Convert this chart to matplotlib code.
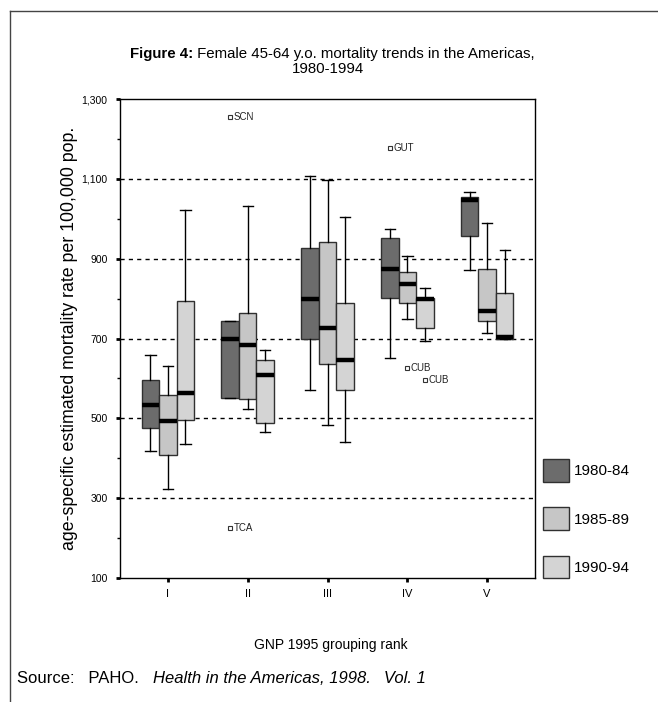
import matplotlib

matplotlib.use("Agg")
import matplotlib.pyplot as plt
from matplotlib.lines import Line2D
from matplotlib.patches import Patch
from matplotlib.ticker import FixedLocator, FuncFormatter

NARROW = ["Liberation Sans Narrow", "Liberation Sans", "DejaVu Sans"]
REGULAR = ["Liberation Sans", "DejaVu Sans"]

groups = ["I", "II", "III", "IV", "V"]
periods = ["1980-84", "1985-89", "1990-94"]
colors = ["#6c6c6c", "#c6c6c6", "#d4d4d4"]

# box statistics per period, one value per GNP group
whislo_80 = [419, 551, 572, 651, 871]
q1_80 = [476, 551, 699, 801, 957]
med_80 = [534, 698, 798, 873, 1046]
q3_80 = [596, 743, 927, 951, 1055]
whishi_80 = [659, 743, 1106, 975, 1067]

whislo_85 = [324, 524, 483, 750, 715]
q1_85 = [407, 548, 635, 790, 743]
med_85 = [494, 685, 727, 837, 769]
q3_85 = [559, 764, 942, 867, 875]
whishi_85 = [630, 1031, 1098, 907, 990]

whislo_90 = [435, 467, 440, 695, 700]
q1_90 = [497, 488, 572, 727, 700]
med_90 = [563, 609, 647, 800, 703]
q3_90 = [793, 647, 790, 802, 814]
whishi_90 = [1023, 672, 1005, 827, 923]

# outliers: (group index, period index, value, country code)
outlier_group = [1, 1, 3, 3, 3]
outlier_period = [0, 0, 0, 1, 2]
outlier_value = [1255, 226, 1177, 627, 595]
outlier_label = ["SCN", "TCA", "GUT", "CUB", "CUB"]

y_major = [100, 300, 500, 700, 900, 1100, 1300]
y_minor = [200, 400, 600, 800, 1000, 1200]
grid_y = [300, 500, 700, 900, 1100]

stats_by_period = [
    (whislo_80, q1_80, med_80, q3_80, whishi_80),
    (whislo_85, q1_85, med_85, q3_85, whishi_85),
    (whislo_90, q1_90, med_90, q3_90, whishi_90),
]

fig = plt.figure(figsize=(6.58, 7.02), dpi=100)
ax = fig.add_axes([0.1824, 0.1766, 0.6307, 0.6823])

w = 0.22
offsets = [-w, 0.0, w]
for k, (lo, q1, med, q3, hi) in enumerate(stats_by_period):
    stats = []
    for g in range(len(groups)):
        fl = [v for gg, pp, v in zip(outlier_group, outlier_period, outlier_value) if gg == g and pp == k]
        stats.append(dict(whislo=lo[g], q1=q1[g], med=med[g], q3=q3[g], whishi=hi[g], fliers=fl))
    pos = [g + 1 + offsets[k] for g in range(len(groups))]
    ax.bxp(
        stats,
        positions=pos,
        widths=w,
        capwidths=0.13,
        patch_artist=True,
        boxprops=dict(facecolor=colors[k], edgecolor="#303030", linewidth=1.0),
        medianprops=dict(color="black", linewidth=3.2, solid_capstyle="butt"),
        whiskerprops=dict(color="black", linewidth=1.0),
        capprops=dict(color="black", linewidth=1.0),
        flierprops=dict(marker="s", markersize=3.5, markerfacecolor="none",
                        markeredgecolor="#333333", markeredgewidth=0.8),
        manage_ticks=False,
        zorder=3,
    )

for g, k, v, lab in zip(outlier_group, outlier_period, outlier_value, outlier_label):
    ax.annotate(lab, xy=(g + 1 + offsets[k], v), xytext=(2.5, 0), textcoords="offset points",
                ha="left", va="center", fontsize=7, family=NARROW, color="#222222")

ax.set_xlim(0.4, 5.6)
ax.set_ylim(100, 1300)
ax.set_xticks(range(1, len(groups) + 1))
ax.set_xticklabels(groups, family=NARROW, fontsize=8)
ax.yaxis.set_major_locator(FixedLocator(y_major))
ax.yaxis.set_minor_locator(FixedLocator(y_minor))
ax.yaxis.set_major_formatter(FuncFormatter(lambda v, _: f"{v:,.0f}"))
for lbl in ax.get_yticklabels():
    lbl.set_family(NARROW)
ax.tick_params(axis="y", which="major", direction="out", length=3, width=2, labelsize=7.5, pad=6)
ax.tick_params(axis="y", which="minor", direction="out", length=2, width=1)
ax.tick_params(axis="x", direction="out", length=3, width=2, pad=5)
for s in ax.spines.values():
    s.set_linewidth(1.0)

for yv in grid_y:
    ax.axhline(yv, color="black", linewidth=1.0, linestyle=(0, (3, 3)), zorder=1, clip_on=False)

fig.text(70 / 658, 1 - 338 / 702, "age-specific estimated mortality rate per 100,000 pop.",
         rotation=90, ha="center", va="center", fontsize=12.8, family=REGULAR)
fig.text(331 / 658, 1 - 645 / 702, "GNP 1995 grouping rank", ha="center", va="center",
         fontsize=10, family=NARROW)

# title: bold lead-in then regular text
t1 = fig.text(130 / 658, 1 - 58 / 702, "Figure 4:", fontsize=10.8, fontweight="bold",
              family=NARROW, ha="left", va="baseline")
ax.annotate(" Female 45-64 y.o. mortality trends in the Americas,", xy=(1, 0), xycoords=t1,
            ha="left", va="bottom", fontsize=10.8, family=NARROW, annotation_clip=False)
fig.text(328 / 658, 1 - 73 / 702, "1980-1994", fontsize=10.8, family=NARROW,
         ha="center", va="baseline")

# source line
src_y = 1 - 683 / 702
s1 = fig.text(17 / 658, src_y, "Source:   PAHO.   ", fontsize=12, family=NARROW,
              ha="left", va="baseline")
s2 = ax.annotate("Health in the Americas, 1998.", xy=(1, 0), xycoords=s1, ha="left", va="bottom",
                 fontsize=12, family=NARROW, style="italic", annotation_clip=False)
ax.annotate("   Vol. 1", xy=(1, 0), xycoords=s2, ha="left", va="bottom",
            fontsize=12, family=NARROW, style="italic", annotation_clip=False)

# legend
handles = [Patch(facecolor=c, edgecolor="#303030", linewidth=1.0, label=p) for c, p in zip(colors, periods)]
fig.legend(handles=handles, loc="upper left", bbox_to_anchor=(537 / 658, 1 - 453 / 702),
           frameon=False, prop={"family": NARROW, "size": 11}, handlelength=1.7,
           handleheight=1.9, handletextpad=0.3, labelspacing=1.68, borderaxespad=0)

# outer frame (top and left edges)
fig.add_artist(Line2D([10 / 658, 10 / 658], [1 - 11 / 702, 0], transform=fig.transFigure,
                      color="#444444", linewidth=1.0))
fig.add_artist(Line2D([10 / 658, 1], [1 - 11 / 702, 1 - 11 / 702], transform=fig.transFigure,
                      color="#444444", linewidth=1.0))

fig.savefig("out.png", dpi=100)
